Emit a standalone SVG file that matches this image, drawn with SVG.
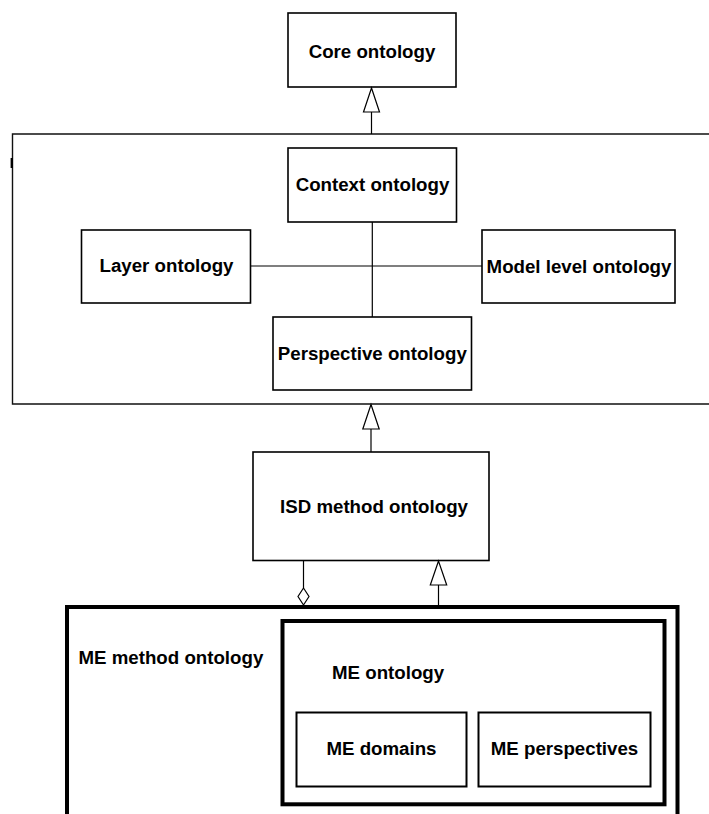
<svg xmlns="http://www.w3.org/2000/svg" width="709" height="814" viewBox="0 0 709 814">
  <style>
    .box { fill: #fff; stroke: #000; stroke-width: 1.6; }
    .frame { fill: none; stroke: #111; stroke-width: 1.4; }
    .heavy { fill: none; stroke: #000; stroke-width: 4; }
    .mid { fill: #fff; stroke: #000; stroke-width: 2; }
    .lbl { font-family: "Liberation Sans", Arial, sans-serif; font-weight: bold; font-size: 18.7px; fill: #000; }
    .c { text-anchor: middle; }
    .link { fill: none; stroke: #000; stroke-width: 1.2; }
    .head { fill: #fff; stroke: #000; stroke-width: 1.2; }
  </style>
  <rect width="709" height="814" fill="#fff"/>

  <!-- container grouping the context ontologies -->
  <g id="context-package">
    <path class="frame" d="M712,134 H12.5 V404 H712"/>
    <line x1="11.8" y1="158" x2="11.8" y2="168" stroke="#000" stroke-width="2.4"/>
  </g>

  <g id="core-ontology">
    <rect class="box" x="288" y="13" width="168" height="74"/>
    <text class="lbl c" x="372" y="57.5">Core ontology</text>
  </g>

  <g id="context-ontology">
    <rect class="box" x="288" y="148" width="168.5" height="74"/>
    <text class="lbl c" x="372.5" y="191">Context ontology</text>
  </g>

  <g id="layer-ontology">
    <rect class="box" x="81.5" y="230" width="169" height="73"/>
    <text class="lbl c" x="166.5" y="272">Layer ontology</text>
  </g>

  <g id="model-level-ontology">
    <rect class="box" x="482" y="230" width="193" height="73"/>
    <text class="lbl c" x="579" y="272.5">Model level ontology</text>
  </g>

  <g id="perspective-ontology">
    <rect class="box" x="273" y="317" width="198.5" height="73"/>
    <text class="lbl c" x="372.3" y="360">Perspective ontology</text>
  </g>

  <g id="isd-method-ontology">
    <rect class="box" x="253" y="452" width="236" height="108.5"/>
    <text class="lbl c" x="374" y="512.7">ISD method ontology</text>
  </g>

  <g id="me-method-ontology">
    <path class="heavy" d="M67,820 V607 H677.5 V820"/>
    <text class="lbl" x="78.5" y="664">ME method ontology</text>
  </g>

  <g id="me-ontology">
    <rect class="heavy" x="282.5" y="621" width="382" height="183.3"/>
    <text class="lbl" x="332" y="678.5">ME ontology</text>
  </g>

  <g id="me-domains">
    <rect class="mid" x="296.5" y="712.5" width="170" height="74"/>
    <text class="lbl c" x="381.5" y="755">ME domains</text>
  </g>

  <g id="me-perspectives">
    <rect class="mid" x="478.5" y="712.5" width="172" height="74"/>
    <text class="lbl c" x="564.5" y="755">ME perspectives</text>
  </g>

  <g id="connectors">
    <!-- context package specialises core ontology -->
    <line class="link" x1="371.5" y1="112" x2="371.5" y2="134"/>
    <polygon class="head" points="371.5,88 363.5,112 379.5,112"/>
    <!-- cross links inside the context package -->
    <line class="link" x1="372.3" y1="222" x2="372.3" y2="317"/>
    <line class="link" x1="250.5" y1="266" x2="482" y2="266"/>
    <!-- ISD method ontology specialises the context package -->
    <line class="link" x1="371" y1="429" x2="371" y2="452"/>
    <polygon class="head" points="371,404.5 362.8,429 379.2,429"/>
    <!-- aggregation: ME method ontology part of ISD method ontology -->
    <line class="link" x1="303.5" y1="560.5" x2="303.5" y2="588"/>
    <polygon class="head" points="303.5,588 309,596.5 303.5,605 298,596.5" stroke-width="1.5"/>
    <!-- ME ontology specialises ISD method ontology -->
    <line class="link" x1="438.5" y1="585" x2="438.5" y2="607"/>
    <polygon class="head" points="438.5,561 430.3,585 446.7,585"/>
  </g>
</svg>
